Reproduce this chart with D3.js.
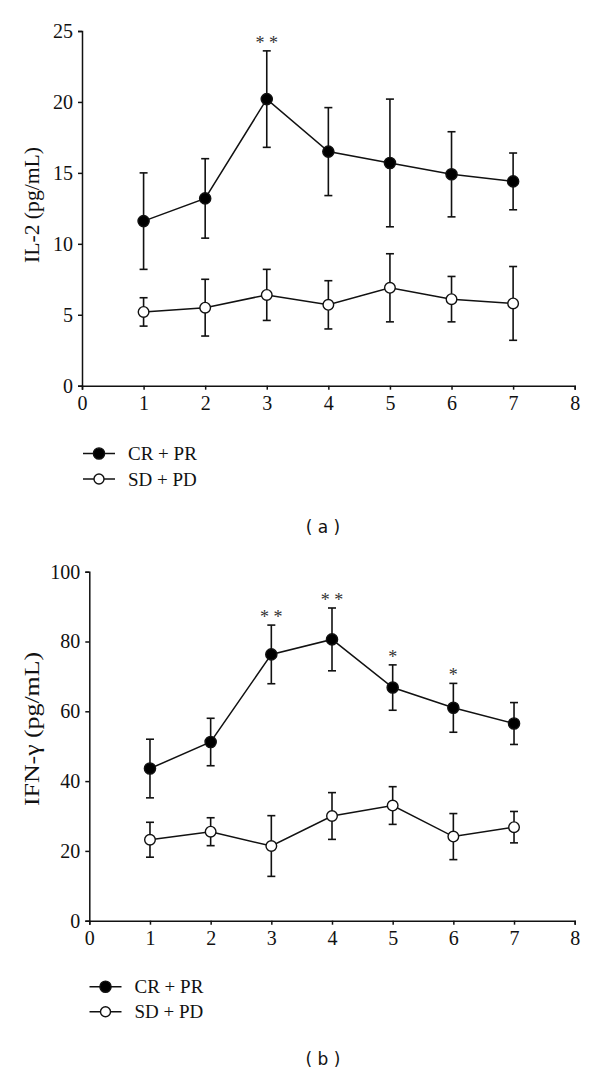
<!DOCTYPE html>
<html>
<head>
<meta charset="utf-8">
<script src="https://cdn.jsdelivr.net/npm/d3@7"></script>
<style>
  html, body { margin: 0; padding: 0; background: #fff; }
  svg { display: block; }
</style>
</head>
<body>
<svg id="chart" width="600" height="1075"></svg>
<script>
// ---- Data ----
const days = [1, 2, 3, 4, 5, 6, 7];
const xTicks = [0, 1, 2, 3, 4, 5, 6, 7, 8];

const il2Ticks = [0, 5, 10, 15, 20, 25];
const il2CR = [11.6, 13.2, 20.2, 16.5, 15.7, 14.9, 14.4];
const il2CRerr = [3.4, 2.8, 3.4, 3.1, 4.5, 3.0, 2.0];
const il2SD = [5.2, 5.5, 6.4, 5.7, 6.9, 6.1, 5.8];
const il2SDerr = [1.0, 2.0, 1.8, 1.7, 2.4, 1.6, 2.6];
const il2Sig = ["", "", "* *", "", "", "", ""];

const ifnTicks = [0, 20, 40, 60, 80, 100];
const ifnCR = [43.6, 51.2, 76.3, 80.6, 66.8, 61.0, 56.5];
const ifnCRerr = [8.4, 6.8, 8.4, 9.0, 6.5, 7.0, 6.0];
const ifnSD = [23.2, 25.5, 21.4, 30.0, 33.0, 24.1, 26.8];
const ifnSDerr = [5.0, 4.0, 8.7, 6.7, 5.4, 6.6, 4.5];
const ifnSig = ["", "", "* *", "* *", "*", "*", ""];

const legendLabels = ["CR + PR", "SD + PD"];

// ---- Drawing ----
const SERIF = "'Liberation Serif', 'Times New Roman', serif";
const INK = "#111";
const svg = d3.select("#chart");

function panel(cfg) {
  const g = svg.append("g");
  const x = d3.scaleLinear().domain([0, 8]).range([cfg.left, cfg.right]);
  const y = d3.scaleLinear().domain([0, cfg.yMax]).range([cfg.bottom, cfg.top]);

  // axes
  const xAxis = d3.axisBottom(x).tickValues(xTicks).tickSize(4).tickPadding(6).tickFormat(d3.format("d"));
  const yAxis = d3.axisLeft(y).tickValues(cfg.yTicks).tickSize(4).tickPadding(5).tickFormat(d3.format("d"));
  const gx = g.append("g").attr("transform", `translate(0,${cfg.bottom})`).call(xAxis);
  const gy = g.append("g").attr("transform", `translate(${cfg.left},0)`).call(yAxis);
  [gx, gy].forEach(a => {
    a.attr("font-family", SERIF).attr("font-size", 20);
    a.select(".domain").attr("stroke", INK).attr("stroke-width", 1.5);
    a.selectAll(".tick line").attr("stroke", INK).attr("stroke-width", 1.5);
    a.selectAll(".tick text").attr("fill", INK);
  });

  // y label
  g.append("text")
    .attr("transform", `translate(${cfg.labelX},${cfg.labelY}) rotate(-90)`)
    .attr("text-anchor", "middle")
    .attr("dominant-baseline", "central")
    .attr("font-family", SERIF)
    .attr("font-size", 20)
    .attr("fill", INK)
    .attr("textLength", cfg.labelLen)
    .attr("lengthAdjust", "spacingAndGlyphs")
    .text(cfg.yLabel);

  const series = [
    { v: cfg.cr, e: cfg.crErr, fill: "#000" },
    { v: cfg.sd, e: cfg.sdErr, fill: "#fff" }
  ];

  // error bars
  series.forEach(s => {
    const eb = g.append("g").attr("stroke", INK).attr("stroke-width", 1.6);
    days.forEach((d, i) => {
      const cx = x(d), top = y(s.v[i] + s.e[i]), bot = y(s.v[i] - s.e[i]);
      eb.append("line").attr("x1", cx).attr("x2", cx).attr("y1", top).attr("y2", bot);
      eb.append("line").attr("x1", cx - 4).attr("x2", cx + 4).attr("y1", top).attr("y2", top);
      eb.append("line").attr("x1", cx - 4).attr("x2", cx + 4).attr("y1", bot).attr("y2", bot);
    });
  });

  // lines
  const line = d3.line().x((d, i) => x(days[i])).y(d => y(d));
  series.forEach(s => {
    g.append("path").datum(s.v).attr("d", line)
      .attr("fill", "none").attr("stroke", INK).attr("stroke-width", 1.5);
  });

  // markers
  series.forEach(s => {
    g.selectAll(null).data(s.v).enter().append("circle")
      .attr("cx", (d, i) => x(days[i])).attr("cy", d => y(d))
      .attr("r", s.fill === "#000" ? 5.6 : 5.3)
      .attr("fill", s.fill).attr("stroke", INK).attr("stroke-width", 1.4);
  });

  // significance
  days.forEach((d, i) => {
    if (!cfg.sig[i]) return;
    g.append("text")
      .attr("x", x(d)).attr("y", y(cfg.cr[i] + cfg.crErr[i]) - 2)
      .attr("text-anchor", "middle")
      .attr("font-family", SERIF).attr("font-size", 18).attr("fill", "#333")
      .attr("xml:space", "preserve")
      .text(cfg.sig[i]);
  });

  // legend
  legendLabels.forEach((lab, k) => {
    const ly = cfg.legY + k * cfg.legGap;
    g.append("line").attr("x1", cfg.legX).attr("x2", cfg.legX + 32)
      .attr("y1", ly).attr("y2", ly).attr("stroke", INK).attr("stroke-width", 1.5);
    g.append("circle").attr("cx", cfg.legX + 16).attr("cy", ly)
      .attr("r", k === 0 ? 5.6 : 5)
      .attr("fill", k === 0 ? "#000" : "#fff").attr("stroke", INK).attr("stroke-width", 1.4);
    g.append("text").attr("x", cfg.legX + 45).attr("y", ly)
      .attr("dominant-baseline", "central")
      .attr("font-family", SERIF).attr("font-size", 19).attr("fill", INK)
      .text(lab);
  });

  // panel tag
  g.append("text").attr("x", 323).attr("y", cfg.tagY)
    .attr("text-anchor", "middle").attr("dominant-baseline", "central")
    .attr("font-family", "'DejaVu Sans', Verdana, sans-serif").attr("font-size", 17)
    .attr("fill", INK)
    .attr("xml:space", "preserve")
    .text(cfg.tag);
}

panel({
  left: 82, right: 574.7, top: 31, bottom: 385.7, yMax: 25, yTicks: il2Ticks,
  cr: il2CR, crErr: il2CRerr, sd: il2SD, sdErr: il2SDerr, sig: il2Sig,
  yLabel: "IL-2 (pg/mL)", labelX: 32, labelY: 205, labelLen: 116,
  legX: 83, legY: 453.5, legGap: 25.5, tag: "( a )", tagY: 526.5
});

panel({
  left: 89.3, right: 574.7, top: 571.7, bottom: 920.7, yMax: 100, yTicks: ifnTicks,
  cr: ifnCR, crErr: ifnCRerr, sd: ifnSD, sdErr: ifnSDerr, sig: ifnSig,
  yLabel: "IFN-γ (pg/mL)", labelX: 32, labelY: 729, labelLen: 154,
  legX: 89.5, legY: 986.7, legGap: 25, tag: "( b )", tagY: 1059.3
});
</script>
</body>
</html>
